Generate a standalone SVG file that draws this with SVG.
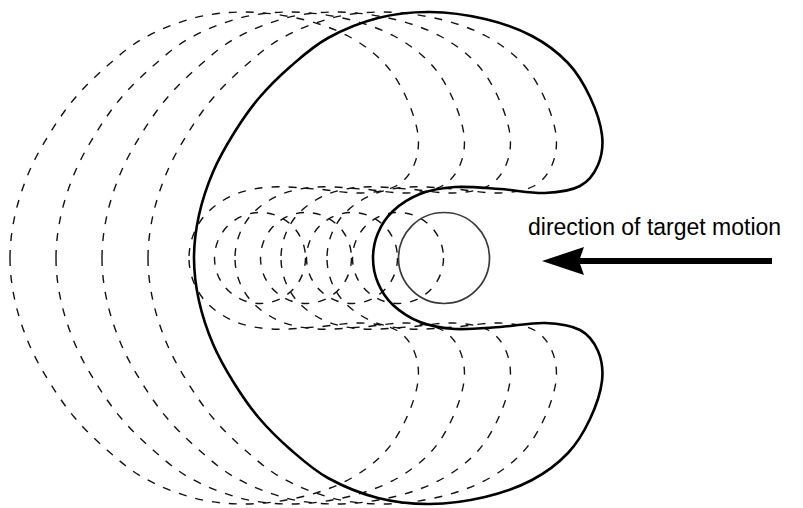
<svg xmlns="http://www.w3.org/2000/svg" xmlns:xlink="http://www.w3.org/1999/xlink" width="803" height="508" viewBox="0 0 803 508">
  <style>
    .solid { fill: none; stroke: #000; stroke-width: 2.6; stroke-linejoin: round; }
    .dash { fill: none; stroke: #111; stroke-width: 1.4; stroke-dasharray: 8 9; }
    .target { fill: none; stroke: #3a3a3a; stroke-width: 1.7; }
    .label { font-family: "Liberation Sans", Arial, sans-serif; font-size: 23px; fill: #000; }
    .arrow { fill: none; stroke: #000; stroke-width: 6; }
  </style>
  <defs>
    <path id="half" d="M194,258 C194,243.67 195.83,229.33 199,215 C202.17,200.67 207.17,185.67 213,172 C218.83,158.33 226.33,145.33 234,133 C241.67,120.67 249.5,109.17 259,98 C268.5,86.83 279.5,76 291,66 C302.5,56 313.5,46 328,38 C342.5,30 361,22.33 378,18 C395,13.67 412.17,11.83 430,12 C447.83,12.17 468,15 485,19 C502,23 518.17,28.67 532,36 C545.83,43.33 558.33,52.83 568,63 C577.67,73.17 584.33,85 590,97 C595.67,109 600.67,123.67 602,135 C603.33,146.33 601.67,156.5 598,165 C594.33,173.5 588.83,181.33 580,186 C571.17,190.67 558.33,192.5 545,193 C531.67,193.5 515,190 500,189 C485,188 468.33,186.17 455,187 C441.67,187.83 430.33,190 420,194 C409.67,198 400,204.5 393,211 C386,217.5 381.33,225.17 378,233 C374.67,240.83 373,249.67 373,258"/>
    <marker id="head" markerUnits="userSpaceOnUse" markerWidth="44" markerHeight="28" viewBox="0 0 44 28" refX="22" refY="14" orient="auto">
      <path d="M0,0 L42,14 L0,28 L5,14 Z" fill="#000"/>
    </marker>
  </defs>

  <g id="dashed-copies" class="dash">
    <g id="copy-1" transform="translate(-46 0)">
      <use href="#half"/>
      <use href="#half" transform="matrix(1 0 0 -1 0 516)"/>
      <circle cx="444" cy="258" r="45.5"/>
    </g>
    <g id="copy-2" transform="translate(-92 0)">
      <use href="#half"/>
      <use href="#half" transform="matrix(1 0 0 -1 0 516)"/>
      <circle cx="444" cy="258" r="45.5"/>
    </g>
    <g id="copy-3" transform="translate(-138 0)">
      <use href="#half"/>
      <use href="#half" transform="matrix(1 0 0 -1 0 516)"/>
      <circle cx="444" cy="258" r="45.5"/>
    </g>
    <g id="copy-4" transform="translate(-184 0)">
      <use href="#half"/>
      <use href="#half" transform="matrix(1 0 0 -1 0 516)"/>
      <circle cx="444" cy="258" r="45.5"/>
    </g>
  </g>

  <g id="outline" class="solid">
    <use href="#half"/>
    <use href="#half" transform="matrix(1 0 0 -1 0 516)"/>
  </g>

  <g id="target">
    <circle class="target" cx="444" cy="258" r="45.5"/>
  </g>

  <g id="connectors">
    <path class="arrow" d="M772,261 H562" marker-end="url(#head)"/>
  </g>

  <g id="label">
    <text class="label" x="528" y="235">direction of target motion</text>
  </g>
</svg>
